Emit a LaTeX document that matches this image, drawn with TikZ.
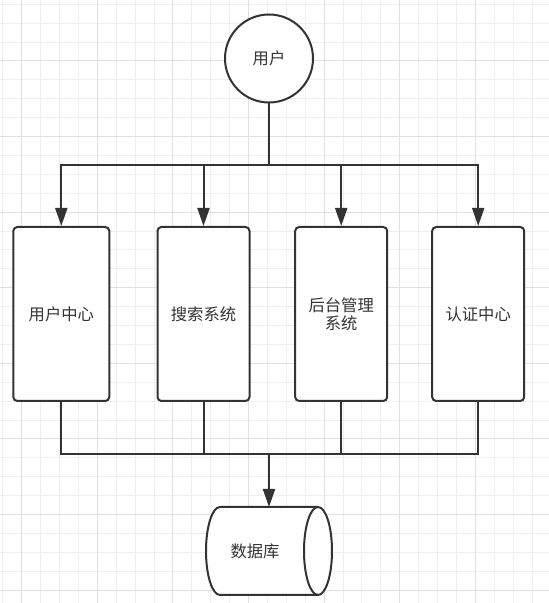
\documentclass[tikz,border=0pt]{standalone}
\usepackage{fontspec}
\newfontfamily\cjk{Noto Sans CJK SC}
\usetikzlibrary{arrows.meta}
\definecolor{ink}{HTML}{333333}
\definecolor{txt}{HTML}{333333}
\definecolor{gridminor}{HTML}{EEEEEE}
\definecolor{gridmajor}{HTML}{E0E0E0}
\tikzset{
  lbl/.style={font=\cjk\fontsize{16.3}{18.3}\selectfont, text=txt},
  sysbox/.style={draw=ink, line width=2pt, rounded corners=4pt, fill=white,
    minimum width=92pt, minimum height=174pt, inner sep=2pt, align=center, lbl},
  usr/.style={circle, draw=ink, line width=2pt, fill=white, minimum size=88pt, inner sep=0pt, lbl},
  conn/.style={draw=ink, line width=2pt},
  arr/.style={conn, -{Triangle[length=18pt,width=12pt]}},
}
\begin{document}
\begin{tikzpicture}[x=1pt,y=1pt]
\useasboundingbox (0,0) rectangle (549,603);
\fill[white] (0,0) rectangle (549,603);
% grid
\foreach \i in {0,...,29} {
  \pgfmathsetmacro\gx{2.8+18.9*\i}
  \draw[gridminor, line width=1pt] (\gx,0) -- (\gx,603);
}
\foreach \j in {0,...,31} {
  \pgfmathsetmacro\gy{598.7-18.9*\j}
  \draw[gridminor, line width=1pt] (0,\gy) -- (549,\gy);
}
\foreach \i in {1,5,...,29} {
  \pgfmathsetmacro\gx{2.8+18.9*\i}
  \draw[gridmajor, line width=1pt] (\gx,0) -- (\gx,603);
}
\foreach \j in {3,7,...,31} {
  \pgfmathsetmacro\gy{598.7-18.9*\j}
  \draw[gridmajor, line width=1pt] (0,\gy) -- (549,\gy);
}
% nodes
\node[usr] (user) at (269,544.5) {用户};
\node[sysbox, minimum width=96pt] (b1) at (61.3,289) {用户中心};
\node[sysbox] (b2) at (203.5,289) {搜索系统};
\node[sysbox] (b3) at (341.2,289) {后台管理\\系统};
\node[sysbox] (b4) at (478.2,289) {认证中心};
\node[minimum width=126pt, minimum height=88pt, inner sep=0pt, outer sep=0pt] (db) at (269,52) {};
\coordinate (bus) at (0,438);
\coordinate (bus2) at (0,149);
% database cylinder
\draw[ink, line width=2pt, fill=white]
  ([xshift=14pt]db.north west) -- ([xshift=-14pt]db.north east)
  arc[start angle=90, end angle=-90, x radius=14pt, y radius=44pt]
  -- ([xshift=14pt]db.south west)
  arc[start angle=270, end angle=90, x radius=14pt, y radius=44pt] -- cycle;
\draw[ink, line width=2pt]
  ([xshift=-14pt]db.north east)
  arc[start angle=90, end angle=270, x radius=14pt, y radius=44pt];
\node[lbl] (dbtext) at ([xshift=-14pt]db.center) {数据库};
% top connectors
\draw[arr] (user.south) |- (b1.north |- bus) -- (b1.north);
\draw[arr] (user.south) |- (b4.north |- bus) -- (b4.north);
\draw[arr] (b2.north |- bus) -- (b2.north);
\draw[arr] (b3.north |- bus) -- (b3.north);
% bottom connectors
\draw[conn] (b1.south) |- (b4.south |- bus2) -- (b4.south);
\draw[conn] (b2.south) -- (b2.south |- bus2);
\draw[conn] (b3.south) -- (b3.south |- bus2);
\draw[arr] (db.north |- bus2) -- (db.north);
\end{tikzpicture}
\end{document}
